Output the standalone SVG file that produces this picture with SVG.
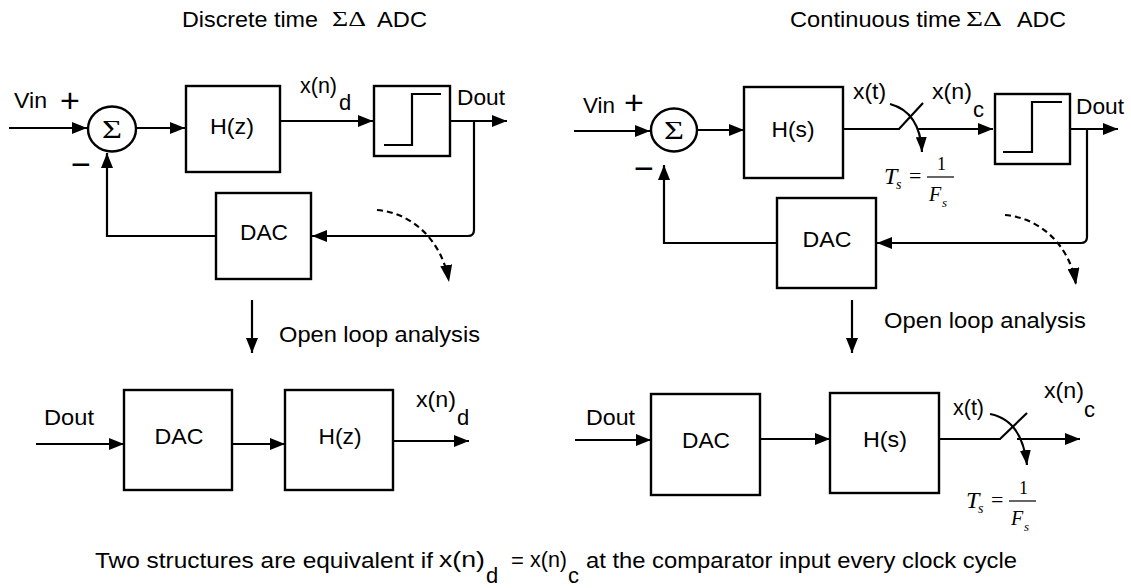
<svg xmlns="http://www.w3.org/2000/svg" width="1131" height="588" viewBox="0 0 1131 588">
<style>
.ln{stroke:#000;stroke-width:2.2;fill:none}
.dash{stroke:#000;stroke-width:2.2;fill:none;stroke-dasharray:6 4}
.box{fill:#fff;stroke:#000;stroke-width:2.4}
.t{font-family:"Liberation Sans",Arial,sans-serif;font-size:22px;fill:#000}
.pm{font-family:"Liberation Sans",Arial,sans-serif;font-size:34px;fill:#000}
.sym{font-family:"Liberation Serif","Times New Roman",serif;fill:#000}
.mi{font-family:"Liberation Serif","Times New Roman",serif;font-style:italic;fill:#000}
.m{text-anchor:middle}
</style>
<defs>
<marker id="ah" viewBox="0 0 15 12" refX="15" refY="6" markerWidth="15" markerHeight="12" markerUnits="userSpaceOnUse" orient="auto"><path d="M0,0 L15,6 L0,12 z" fill="#000"/></marker>
<marker id="ahs" viewBox="0 0 15 11" refX="15" refY="5.5" markerWidth="15" markerHeight="11" markerUnits="userSpaceOnUse" orient="auto"><path d="M0,0 L15,5.5 L0,11 z" fill="#000"/></marker>
<marker id="ahd" viewBox="0 0 17 12" refX="17" refY="6" markerWidth="17" markerHeight="12" markerUnits="userSpaceOnUse" orient="auto"><path d="M0,0 L17,6 L0,12 z" fill="#000"/></marker>
</defs>
<rect width="1131" height="588" fill="#fff"/>

<!-- titles -->
<g id="title-dt">
<text class="t" x="182" y="27" textLength="136" lengthAdjust="spacingAndGlyphs">Discrete time</text>
<text class="sym" x="332" y="26" font-size="21" textLength="34" lengthAdjust="spacingAndGlyphs">ΣΔ</text>
<text class="t" x="377" y="27" textLength="50" lengthAdjust="spacingAndGlyphs">ADC</text>
</g>
<g id="title-ct">
<text class="t" x="790" y="27" textLength="171" lengthAdjust="spacingAndGlyphs">Continuous time</text>
<text class="sym" x="966" y="26" font-size="21" textLength="36" lengthAdjust="spacingAndGlyphs">ΣΔ</text>
<text class="t" x="1017" y="27" textLength="49" lengthAdjust="spacingAndGlyphs">ADC</text>
</g>

<!-- connectors -->
<g id="connectors">
<!-- discrete time loop -->
<path class="ln" d="M9,128 H87" marker-end="url(#ah)"/>
<path class="ln" d="M136,128 H185" marker-end="url(#ah)"/>
<path class="ln" d="M280,121 H373" marker-end="url(#ah)"/>
<path class="ln" d="M450,121 H507" marker-end="url(#ah)"/>
<path class="ln" d="M474,121 V230 Q474,236 468,236 H312" marker-end="url(#ah)"/>
<path class="ln" d="M216,236 H107 V153" marker-end="url(#ah)"/>
<path class="dash" d="M377,210 C412,213 442,240 449,282" marker-end="url(#ahd)"/>
<!-- discrete open loop -->
<path class="ln" d="M252,300 V353" marker-end="url(#ah)"/>
<path class="ln" d="M36,444 H124" marker-end="url(#ah)"/>
<path class="ln" d="M232,444 H285" marker-end="url(#ah)"/>
<path class="ln" d="M393,441 H469" marker-end="url(#ah)"/>
<!-- continuous time loop -->
<path class="ln" d="M574,131 H650" marker-end="url(#ah)"/>
<path class="ln" d="M697,130 H744" marker-end="url(#ah)"/>
<path class="ln" d="M843,129 H899 L923,103"/>
<path class="ln" d="M918,129 H993" marker-end="url(#ah)"/>
<path class="ln" d="M890,104 Q920,112 922,152" marker-end="url(#ahs)"/>
<path class="ln" d="M1070,129 H1118" marker-end="url(#ah)"/>
<path class="ln" d="M1087,129 V237 Q1087,243 1081,243 H877" marker-end="url(#ah)"/>
<path class="ln" d="M777,243 H664 V165" marker-end="url(#ah)"/>
<path class="dash" d="M1005,215 C1040,218 1070,245 1076,285" marker-end="url(#ahd)"/>
<!-- continuous open loop -->
<path class="ln" d="M852,300 V353" marker-end="url(#ah)"/>
<path class="ln" d="M575,440 H651" marker-end="url(#ah)"/>
<path class="ln" d="M760,439 H830" marker-end="url(#ah)"/>
<path class="ln" d="M939,439 H1000 L1027,413"/>
<path class="ln" d="M1017,439 H1080" marker-end="url(#ah)"/>
<path class="ln" d="M990,414 Q1022,420 1027,465" marker-end="url(#ahs)"/>
</g>

<!-- discrete time nodes -->
<g id="dt-labels">
<text class="t" x="14" y="108" textLength="33" lengthAdjust="spacingAndGlyphs">Vin</text>
<text class="pm" x="60" y="112">+</text>
<text class="pm" x="71" y="176">−</text>
<text class="t" x="300" y="93" textLength="37" lengthAdjust="spacingAndGlyphs">x(n)</text>
<text class="t" x="339" y="110">d</text>
<text class="t" x="457" y="105" textLength="48" lengthAdjust="spacingAndGlyphs">Dout</text>
</g>
<g id="dt-sum">
<ellipse class="box" cx="112" cy="129" rx="24" ry="22.5"/>
<text class="sym m" x="112" y="138" font-size="26" textLength="20" lengthAdjust="spacingAndGlyphs">Σ</text>
</g>
<g id="dt-hz">
<rect class="box" x="186" y="86" width="94" height="86"/>
<text class="t m" x="232" y="134" textLength="44" lengthAdjust="spacingAndGlyphs">H(z)</text>
</g>
<g id="dt-comp">
<rect class="box" x="374" y="86" width="76" height="70"/>
<path class="ln" d="M384,145 H412 V94 H441"/>
</g>
<g id="dt-dac">
<rect class="box" x="216" y="193" width="95" height="86"/>
<text class="t m" x="264" y="240" textLength="48" lengthAdjust="spacingAndGlyphs">DAC</text>
</g>
<g id="dt-open-label">
<text class="t" x="279" y="342" textLength="201" lengthAdjust="spacingAndGlyphs">Open loop analysis</text>
</g>
<g id="dt-ol-labels">
<text class="t" x="44" y="425" textLength="50" lengthAdjust="spacingAndGlyphs">Dout</text>
<text class="t" x="416" y="407" textLength="40" lengthAdjust="spacingAndGlyphs">x(n)</text>
<text class="t" x="457" y="425">d</text>
</g>
<g id="dt-ol-dac">
<rect class="box" x="124" y="390" width="108" height="100"/>
<text class="t m" x="179" y="444" textLength="49" lengthAdjust="spacingAndGlyphs">DAC</text>
</g>
<g id="dt-ol-hz">
<rect class="box" x="285" y="390" width="108" height="100"/>
<text class="t m" x="340" y="444" textLength="43" lengthAdjust="spacingAndGlyphs">H(z)</text>
</g>

<!-- continuous time nodes -->
<g id="ct-labels">
<text class="t" x="583" y="113" textLength="32" lengthAdjust="spacingAndGlyphs">Vin</text>
<text class="pm" x="624" y="114">+</text>
<text class="pm" x="634" y="180">−</text>
<text class="t" x="853" y="99" textLength="33" lengthAdjust="spacingAndGlyphs">x(t)</text>
<text class="t" x="932" y="99" textLength="40" lengthAdjust="spacingAndGlyphs">x(n)</text>
<text class="t" x="973" y="117">c</text>
<text class="t" x="1076" y="114" textLength="48" lengthAdjust="spacingAndGlyphs">Dout</text>
</g>
<g id="ct-ts">
<text class="mi" x="884" y="184" font-size="24">T</text>
<text class="mi" x="896" y="189" font-size="14">s</text>
<text class="sym" x="909" y="183" font-size="22">=</text>
<text class="sym" x="937" y="170" font-size="18">1</text>
<line x1="927" y1="177" x2="954" y2="177" stroke="#000" stroke-width="1.2"/>
<text class="mi" x="929" y="201" font-size="20">F</text>
<text class="mi" x="942" y="207" font-size="13">s</text>
</g>
<g id="ct-sum">
<ellipse class="box" cx="674" cy="130" rx="23" ry="21.5"/>
<text class="sym m" x="674" y="139" font-size="26" textLength="20" lengthAdjust="spacingAndGlyphs">Σ</text>
</g>
<g id="ct-hs">
<rect class="box" x="744" y="87" width="99" height="91"/>
<text class="t m" x="793" y="137" textLength="43" lengthAdjust="spacingAndGlyphs">H(s)</text>
</g>
<g id="ct-comp">
<rect class="box" x="995" y="94" width="75" height="70"/>
<path class="ln" d="M1003,152 H1032 V102 H1062"/>
</g>
<g id="ct-dac">
<rect class="box" x="777" y="198" width="99" height="90"/>
<text class="t m" x="827" y="247" textLength="49" lengthAdjust="spacingAndGlyphs">DAC</text>
</g>
<g id="ct-open-label">
<text class="t" x="884" y="328" textLength="202" lengthAdjust="spacingAndGlyphs">Open loop analysis</text>
</g>
<g id="ct-ol-labels">
<text class="t" x="586" y="425" textLength="49" lengthAdjust="spacingAndGlyphs">Dout</text>
<text class="t" x="953" y="415" textLength="31" lengthAdjust="spacingAndGlyphs">x(t)</text>
<text class="t" x="1044" y="398" textLength="40" lengthAdjust="spacingAndGlyphs">x(n)</text>
<text class="t" x="1084" y="417">c</text>
</g>
<g id="ct-ol-ts" transform="translate(82,324)">
<text class="mi" x="884" y="184" font-size="24">T</text>
<text class="mi" x="896" y="189" font-size="14">s</text>
<text class="sym" x="909" y="183" font-size="22">=</text>
<text class="sym" x="937" y="170" font-size="18">1</text>
<line x1="927" y1="177" x2="954" y2="177" stroke="#000" stroke-width="1.2"/>
<text class="mi" x="929" y="201" font-size="20">F</text>
<text class="mi" x="942" y="207" font-size="13">s</text>
</g>
<g id="ct-ol-dac">
<rect class="box" x="651" y="394" width="109" height="101"/>
<text class="t m" x="706" y="448" textLength="48" lengthAdjust="spacingAndGlyphs">DAC</text>
</g>
<g id="ct-ol-hs">
<rect class="box" x="830" y="393" width="109" height="100"/>
<text class="t m" x="885" y="447" textLength="44" lengthAdjust="spacingAndGlyphs">H(s)</text>
</g>

<!-- bottom statement -->
<g id="statement">
<text class="t" x="95" y="568" textLength="338" lengthAdjust="spacingAndGlyphs">Two structures are equivalent if</text>
<text class="t" x="439" y="567" textLength="46" lengthAdjust="spacingAndGlyphs">x(n)</text>
<text class="t" x="486" y="583">d</text>
<text class="t" x="511" y="568">=</text>
<text class="t" x="530" y="567" textLength="37" lengthAdjust="spacingAndGlyphs">x(n)</text>
<text class="t" x="568" y="583">c</text>
<text class="t" x="586" y="568" textLength="431" lengthAdjust="spacingAndGlyphs">at the comparator input every clock cycle</text>
</g>
</svg>
